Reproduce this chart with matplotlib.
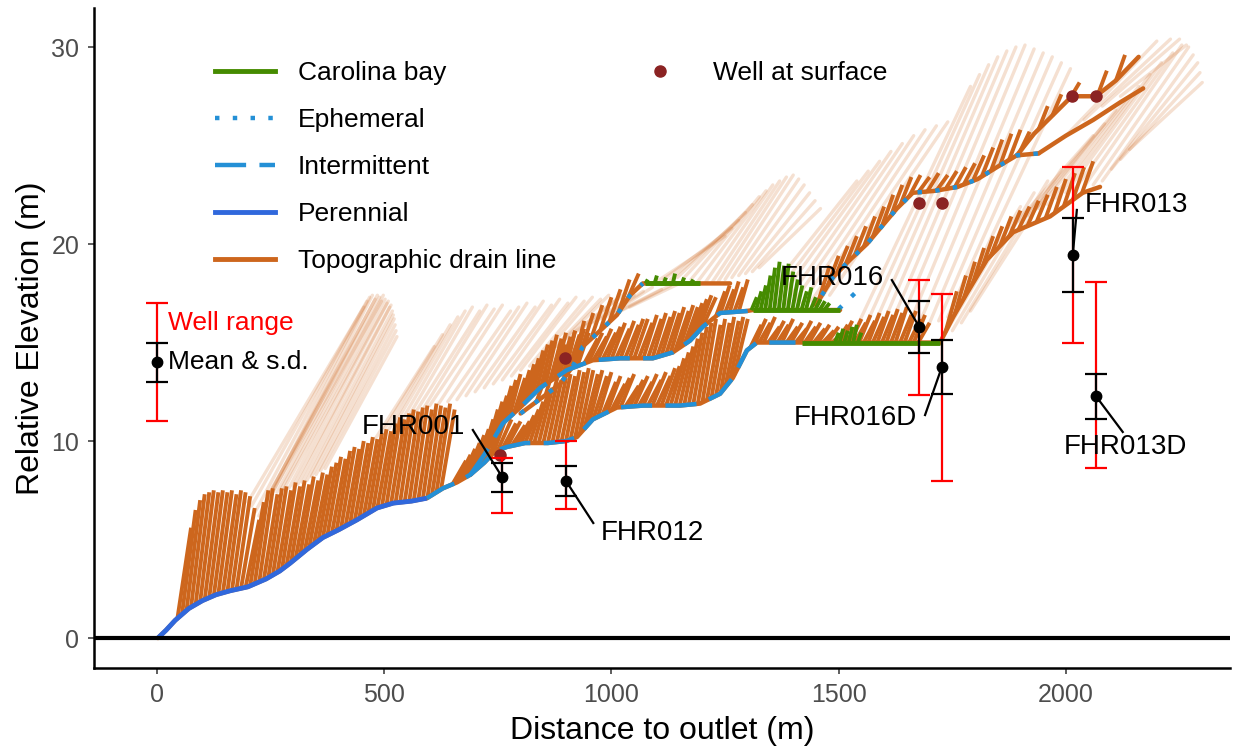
# Script to redraw the topographic drain line profile with well water levels

# IMPORTS #
import numpy as np
import matplotlib
matplotlib.use('Agg')
import matplotlib.pyplot as plt
from matplotlib.lines import Line2D

plt.rcParams['font.family'] = ['Liberation Sans', 'DejaVu Sans']

# COLOURS #
ORANGE = '#CD661D'
GREEN = '#458B00'
BLUE_LT = '#2490D6'
BLUE_PER = '#3068DC'
WELL_RED = '#8B2323'

# DATA #
# Channel paths (distance to outlet, relative elevation)
stem_a_x = [2, 20, 40, 70, 100, 130, 161, 200, 240, 270, 293, 330, 365, 400, 440, 484, 520, 560, 594,
            629, 660, 690, 720, 745, 770, 810, 860, 900, 924, 959, 1012, 1070, 1150, 1195, 1239, 1267,
            1298, 1320, 1405, 1419, 1723]
stem_a_y = [0.0, 0.4, 0.9, 1.5, 1.9, 2.2, 2.4, 2.6, 3.0, 3.4, 3.8, 4.5, 5.1, 5.5, 6.0, 6.6, 6.85, 6.95, 7.1,
            7.6, 7.9, 8.3, 8.9, 9.5, 9.7, 9.9, 9.9, 10.0, 10.2, 11.1, 11.7, 11.8, 11.8, 11.9, 12.4, 13.2,
            14.6, 15.0, 15.0, 15.0, 15.0]
stem_b_x = [690, 720, 761, 799, 843, 902, 959, 1019, 1091, 1135, 1173, 1201, 1239, 1298, 1311, 1503]
stem_b_y = [8.3, 9.3, 10.9, 11.7, 12.7, 13.6, 14.1, 14.2, 14.2, 14.5, 15.1, 15.8, 16.5, 16.6, 16.65, 16.65]
stem_e_x = [800, 847, 887, 915, 937, 975, 1012, 1041, 1069, 1074, 1195, 1261]
stem_e_y = [11.4, 12.2, 12.9, 13.8, 14.8, 15.6, 16.4, 17.4, 18.0, 18.0, 18.0, 18.0]
stem_c_x = [1450, 1463, 1487, 1525, 1562, 1595, 1628, 1663, 1712, 1762, 1806, 1848, 1892, 1940]
stem_c_y = [16.9, 17.4, 18.3, 19.2, 20.0, 20.9, 21.8, 22.6, 22.7, 22.9, 23.3, 23.9, 24.5, 24.6]
stem_c2_x = [1500, 1540]
stem_c2_y = [16.7, 17.6]
stem_d_x = [1723, 1752, 1782, 1826, 1884, 1965, 2037, 2075]
stem_d_y = [15.0, 16.3, 17.5, 19.2, 20.6, 21.4, 22.6, 22.9]
stem_f1_x = [1940, 2000, 2060, 2120, 2170]
stem_f1_y = [24.6, 25.5, 26.3, 27.2, 27.9]
stem_f2_x = [1892, 1930, 1965, 2013, 2066, 2110, 2160]
stem_f2_y = [24.5, 25.6, 26.4, 27.5, 27.5, 28.3, 29.5]

# Tributary drain lines: top end of each line (x, elevation)
fan1_top_x = [75, 85, 95, 105, 115, 125, 135, 145, 155, 165, 175, 185, 195, 205, 215, 225, 235, 245, 255,
              265, 275, 285, 295, 305, 315, 325, 335, 345, 355, 365, 375, 385, 395, 405, 415, 425, 435,
              445, 455, 465, 475, 485, 495, 505, 515, 525, 535, 545, 555, 565, 575, 585, 595, 605, 615,
              625, 635, 645, 655]
fan1_top_y = [5.6, 6.5, 7.0, 7.3, 7.4, 7.5, 7.4, 7.5, 7.4, 7.5, 7.3, 7.5, 7.4, 7.2, 6.6, 6.0, 6.9, 7.5, 7.6,
              7.3, 7.6, 7.7, 7.5, 7.9, 7.7, 8.0, 7.8, 8.2, 8.0, 8.4, 8.3, 8.7, 8.9, 9.2, 9.1, 9.5, 9.7,
              9.6, 10.0, 9.9, 10.2, 10.1, 10.4, 10.6, 10.5, 10.9, 11.2, 11.1, 11.4, 11.6, 11.5, 11.7, 11.8,
              11.6, 11.9, 11.8, 11.7, 11.9, 11.6]
fan2_top_x = [680, 690, 700, 710, 720, 730, 740, 750, 760, 770, 780, 790, 800, 810, 820, 830, 840, 850, 860,
              870, 880, 890, 900, 910, 920, 930, 940, 950, 960, 970, 980, 990, 1000]
fan2_top_y = [9.0, 9.3, 9.6, 9.9, 10.3, 10.6, 10.9, 11.2, 11.0, 11.3, 11.1, 10.9, 11.0, 10.8, 11.0, 11.3,
              11.6, 12.0, 12.4, 12.7, 12.9, 13.1, 13.2, 13.4, 13.3, 13.6, 13.5, 13.7, 13.6, 13.4, 13.6,
              13.3, 13.5]
fan3_top_x = [1010, 1020, 1030, 1040, 1050, 1060, 1070, 1080, 1090, 1100, 1110, 1120, 1130, 1140, 1150,
              1160, 1170, 1180, 1190, 1200, 1210, 1220, 1230, 1240, 1250, 1260, 1270, 1280, 1290, 1300]
fan3_top_y = [13.0, 13.3, 12.9, 13.2, 13.4, 12.8, 13.1, 13.3, 13.0, 13.4, 13.1, 13.5, 13.3, 13.7, 13.8,
              14.2, 14.5, 14.8, 15.2, 15.5, 15.8, 16.0, 16.2, 15.9, 16.2, 16.0, 16.3, 16.1, 16.3, 16.2]
fan4_top_x = [1330, 1340, 1350, 1360, 1370, 1380, 1390, 1400, 1410, 1420, 1430, 1440, 1450, 1460, 1470,
              1480, 1490, 1500, 1510, 1520, 1530, 1540, 1550, 1560, 1570, 1580, 1590, 1600, 1610, 1620,
              1630, 1640, 1650, 1660, 1670, 1680, 1690, 1700]
fan4_top_y = [15.9, 16.2, 16.0, 16.3, 15.8, 16.1, 15.9, 16.2, 15.8, 16.0, 15.7, 16.1, 15.8, 16.0, 15.7,
              15.9, 15.6, 15.8, 15.5, 15.9, 16.1, 15.8, 16.2, 16.0, 16.4, 16.1, 16.5, 16.3, 16.6, 16.4,
              16.7, 16.5, 16.8, 16.4, 16.6, 16.2, 16.4, 16.0]
fan5_top_x = [970, 980, 990, 1000, 1010, 1020, 1030, 1040, 1050, 1060, 1070, 1080, 1090, 1100, 1110, 1120,
              1130, 1140, 1150, 1160, 1170, 1180, 1190, 1200, 1210, 1220, 1230]
fan5_top_y = [15.2, 15.5, 15.3, 15.7, 15.5, 15.8, 16.0, 15.7, 16.1, 15.9, 16.2, 16.2, 16.0, 16.4, 16.2,
              16.5, 16.3, 16.6, 16.5, 16.8, 16.6, 16.9, 16.8, 17.0, 17.2, 17.4, 17.3]
fan6_top_x = [1250, 1260, 1270, 1280, 1290, 1300]
fan6_top_y = [17.6, 17.9, 17.7, 18.1, 17.8, 18.2]
fan7_top_x = [730, 740, 750, 760, 770, 780, 790, 800, 810, 820, 830, 840, 850, 860, 870, 880, 890, 900,
              910, 920, 930, 940, 950]
fan7_top_y = [10.5, 11.1, 11.6, 12.0, 12.3, 12.8, 13.1, 13.4, 13.2, 13.6, 13.9, 14.2, 14.6, 14.9, 15.1,
              15.4, 15.2, 15.5, 15.3, 15.6, 15.4, 15.7, 15.5]
fan8_top_x = [860, 880, 900, 920, 940, 960, 980, 1000, 1020, 1040, 1060]
fan8_top_y = [13.6, 14.2, 14.9, 15.6, 16.1, 16.5, 16.9, 17.3, 17.7, 18.2, 18.5]
fan_c_top_x = [1480, 1500, 1520, 1540, 1560, 1580, 1600, 1620, 1640, 1660, 1680, 1700, 1720, 1740, 1760,
               1780, 1800, 1820, 1840, 1860, 1880, 1900, 1920]
fan_c_top_y = [18.9, 19.4, 19.9, 20.4, 20.9, 21.4, 21.9, 22.5, 23.0, 23.4, 23.5, 23.4, 23.6, 23.5, 23.7,
               23.9, 24.1, 24.5, 24.9, 25.3, 25.6, 25.8, 25.7]
fan_d_top_x = [1760, 1780, 1800, 1820, 1840, 1860, 1880, 1900, 1920, 1940, 1960, 1980, 2000, 2020, 2040,
               2060]
fan_d_top_y = [17.6, 18.4, 19.1, 19.8, 20.4, 20.9, 21.4, 21.7, 21.9, 22.2, 22.5, 22.9, 23.3, 23.6, 23.9,
               24.2]
fan_f_top_x = [1960, 1990, 2030, 2090, 2130]
fan_f_top_y = [27.0, 27.6, 28.2, 28.8, 29.6]
# drain lines inside the Carolina bays
bay_mid_top_x = [1320, 1330, 1340, 1350, 1360, 1370, 1380, 1390, 1400, 1410, 1420, 1430, 1440, 1450,
                 1460, 1470, 1480]
bay_mid_top_y = [17.3, 17.6, 17.9, 18.4, 18.8, 19.1, 18.9, 19.0, 18.6, 18.2, 17.9, 17.6, 17.8, 17.3,
                 17.2, 17.1, 17.0]
bay_low_top_x = [1500, 1510, 1520, 1530, 1540, 1550]
bay_low_top_y = [15.5, 15.7, 15.6, 15.8, 15.9, 15.5]
bay_up_top_x = [1080, 1100, 1120, 1140, 1160, 1180]
bay_up_top_y = [18.2, 18.4, 18.3, 18.5, 18.3, 18.2]

# Long headwater drain lines (faint): start and end points
fade_a_x0 = [200, 208, 216, 224, 232, 240, 248, 256, 264, 272, 280, 290, 300, 310, 320, 330, 340, 350,
             360, 370]
fade_a_y0 = [6.9, 6.7, 6.4, 6.2, 6.4, 7.0, 7.4, 7.5, 7.4, 7.5, 7.6, 7.6, 7.7, 7.8, 7.9, 8.0, 8.2, 8.3,
             8.5, 8.6]
fade_a_x1 = [455, 462, 468, 474, 480, 485, 490, 494, 498, 502, 506, 509, 512, 515, 518, 520, 522, 524,
             526, 528]
fade_a_y1 = [16.8, 17.1, 17.3, 17.4, 17.2, 17.4, 17.3, 17.1, 17.4, 17.2, 17.0, 17.1, 16.8, 16.9, 16.6,
             16.4, 16.2, 15.9, 15.6, 15.3]
fade_b_x0 = [480, 495, 510, 525, 540, 555, 570, 585, 600, 620, 640, 660, 680, 700, 720, 740, 760, 780,
             800, 820, 840, 860, 880, 900, 920, 940, 960, 980, 1000, 1020, 1040]
fade_b_y0 = [10.1, 10.4, 10.6, 10.9, 11.1, 11.3, 11.5, 11.6, 11.8, 11.9, 12.0, 12.1, 12.3, 12.5, 12.7,
             12.9, 13.1, 13.3, 13.6, 13.8, 14.1, 14.4, 14.8, 15.2, 15.5, 15.8, 16.0, 16.2, 16.4, 16.6,
             16.8]
fade_b_x1 = [610, 628, 645, 662, 678, 694, 710, 726, 742, 760, 778, 796, 814, 832, 850, 868, 886, 904,
             922, 940, 958, 976, 994, 1012, 1030, 1050, 1070, 1090, 1110, 1130, 1150]
fade_b_y1 = [14.8, 15.4, 15.9, 16.3, 16.6, 16.8, 16.6, 16.9, 16.7, 16.9, 16.6, 16.8, 17.0, 16.8, 17.1,
             16.9, 17.2, 17.0, 17.3, 17.1, 17.3, 17.2, 17.4, 17.2, 17.5, 17.4, 17.6, 17.8, 17.7, 17.9,
             18.0]
fade_c_x0 = [1100, 1115, 1130, 1145, 1160, 1175, 1190, 1205, 1220, 1235, 1250, 1265, 1280, 1295, 1310,
             1325]
fade_c_y0 = [18.1, 18.2, 18.2, 18.3, 18.3, 18.2, 18.1, 18.0, 18.0, 18.1, 18.2, 18.3, 18.4, 18.5, 18.6,
             18.8]
fade_c_x1 = [1250, 1265, 1280, 1295, 1310, 1325, 1340, 1355, 1370, 1385, 1400, 1412, 1424, 1436, 1448,
             1460]
fade_c_y1 = [20.4, 20.8, 21.2, 21.6, 22.0, 22.4, 22.7, 23.0, 23.2, 23.4, 23.5, 23.3, 23.0, 22.6, 22.2,
             21.8]
fade_d_x0 = [1320, 1340, 1360, 1380, 1400, 1420, 1440, 1460, 1480,
             1540, 1560, 1580, 1600, 1620, 1640, 1660, 1680, 1700, 1720, 1740, 1760,
             1730, 1750, 1770, 1790]
fade_d_y0 = [16.8, 16.8, 16.9, 16.9, 17.0, 17.0, 17.1, 17.2, 17.4,
             15.8, 15.9, 16.0, 16.1, 16.2, 16.3, 16.2, 16.1, 16.0, 16.1, 16.3, 16.6,
             15.3, 15.6, 16.0, 16.6]
fade_d_x1 = [1540, 1565, 1590, 1615, 1640, 1665, 1690, 1715, 1740,
             1790, 1810, 1830, 1850, 1870, 1890, 1910, 1930, 1950, 1970, 1990, 2010,
             1900, 1930, 1960, 1990]
fade_d_y1 = [23.2, 23.7, 24.2, 24.7, 25.1, 25.5, 25.8, 26.0, 26.2,
             28.0, 28.6, 29.1, 29.5, 29.8, 30.0, 30.1, 29.9, 29.7, 29.5, 29.2, 28.9,
             21.9, 22.6, 23.2, 23.8]
fade_e_x0 = [1880, 1900, 1920, 1940, 1960, 1980, 2000, 2020, 2040, 2060, 2080, 2100, 2120, 2140,
             2000, 2040, 2080, 2120]
fade_e_y0 = [20.8, 21.1, 21.4, 21.8, 22.0, 22.3, 22.6, 22.8, 22.9, 23.0, 23.2, 23.8, 24.3, 24.8,
             25.5, 26.3, 27.0, 27.5]
fade_e_x1 = [2060, 2085, 2110, 2135, 2160, 2185, 2210, 2235, 2255, 2270, 2280, 2290, 2295, 2300,
             2200, 2230, 2250, 2265]
fade_e_y1 = [25.5, 26.1, 26.8, 27.4, 28.0, 28.6, 29.2, 29.7, 30.1, 30.0, 29.6, 29.2, 28.7, 28.2,
             30.3, 30.4, 30.4, 30.1]

# Wells at the land surface
surf_x = [755, 898, 1677, 1727, 2013, 2066]
surf_y = [9.3, 14.2, 22.1, 22.1, 27.5, 27.5]

# Wells: mean, standard deviation and range of water level
well_names = ['FHR001', 'FHR012', 'FHR016', 'FHR016D', 'FHR013', 'FHR013D']
well_x = [760, 900, 1677, 1727, 2015, 2066]
well_mean = [8.15, 7.97, 15.8, 13.76, 19.44, 12.28]
well_sd = [0.76, 0.74, 1.32, 1.35, 1.87, 1.14]
well_min = [6.34, 6.55, 12.33, 7.97, 15.0, 8.63]
well_max = [9.14, 10.0, 18.17, 17.46, 23.9, 18.07]
# label centres and leader line starts
label_x = [564, 1089, 1487, 1536, 2156, 2132]
label_y = [10.7, 5.33, 18.3, 11.17, 21.98, 9.7]
lead_x = [695, 960, 1617, 1690, 2024, 2125]
lead_y = [10.56, 5.84, 18.17, 11.32, 21.73, 10.46]

# key well for the error bar legend
key_x = [0]
key_mean = [14]
key_sd = [1]
key_min = [11]
key_max = [17]

# FIGURE #
fig = plt.figure(figsize=(12.35, 7.51), dpi=100)
ax = fig.add_axes([94 / 1235, 83 / 751, 1136 / 1235, 660 / 751])


# FUNCTIONS #
def draw_fan(stem_x, stem_y, top_x, top_y, lean, color=ORANGE, lw=2.8, z=3):
# Draw tributary drain lines from the stem up to their top points
    top_x = np.array(top_x, dtype=float)
    base_x = top_x - lean
    base_y = np.interp(base_x, stem_x, stem_y)
    for i in range(len(top_x)):
        ax.plot([base_x[i], top_x[i]], [base_y[i], top_y[i]], color=color, lw=lw,
                solid_capstyle='butt', zorder=z)


def draw_fade(x0, y0, x1, y1):
# Draw the faint long headwater drain lines
    for i in range(len(x0)):
        ax.plot([x0[i], x1[i]], [y0[i], y1[i]], color=ORANGE, lw=2.4, alpha=0.2,
                solid_capstyle='round', zorder=2)


def part(stem_x, stem_y, lo, hi):
# Pick the points of a stem between two distances
    sx = np.array(stem_x)
    sy = np.array(stem_y)
    m = (sx >= lo) & (sx <= hi)
    return sx[m], sy[m]


def draw_wells(x, mean, sd, lo, hi):
# Range (red), mean and s.d. (black) for each well
    x = np.array(x, dtype=float)
    mean = np.array(mean)
    ax.errorbar(x, mean, yerr=[mean - np.array(lo), np.array(hi) - mean], fmt='none',
                ecolor='red', elinewidth=1.6, capsize=8, capthick=1.6, zorder=6)
    ax.errorbar(x, mean, yerr=sd, fmt='none', ecolor='black', elinewidth=1.6,
                capsize=8, capthick=1.6, zorder=7)
    ax.plot(x, mean, 'o', color='black', markersize=7.5, zorder=8)


# faint lines first
draw_fade(fade_a_x0, fade_a_y0, fade_a_x1, fade_a_y1)
draw_fade(fade_b_x0, fade_b_y0, fade_b_x1, fade_b_y1)
draw_fade(fade_c_x0, fade_c_y0, fade_c_x1, fade_c_y1)
draw_fade(fade_d_x0, fade_d_y0, fade_d_x1, fade_d_y1)
draw_fade(fade_e_x0, fade_e_y0, fade_e_x1, fade_e_y1)

# tributaries
draw_fan(stem_a_x, stem_a_y, fan1_top_x, fan1_top_y, 30)
draw_fan(stem_a_x, stem_a_y, fan2_top_x, fan2_top_y, 30)
draw_fan(stem_a_x, stem_a_y, fan3_top_x, fan3_top_y, 30)
draw_fan(stem_a_x, stem_a_y, fan4_top_x, fan4_top_y, 25)
draw_fan(stem_b_x, stem_b_y, fan5_top_x, fan5_top_y, 30)
draw_fan(stem_b_x, stem_b_y, fan6_top_x, fan6_top_y, 20)
draw_fan(stem_b_x, stem_b_y, fan7_top_x, fan7_top_y, 25)
draw_fan(stem_e_x, stem_e_y, fan8_top_x, fan8_top_y, 25)
draw_fan(stem_c_x, stem_c_y, fan_c_top_x, fan_c_top_y, 25)
draw_fan(stem_d_x, stem_d_y, fan_d_top_x, fan_d_top_y, 25)
draw_fan(stem_f2_x, stem_f2_y, fan_f_top_x, fan_f_top_y, 20)
draw_fan(stem_b_x, stem_b_y, bay_mid_top_x, bay_mid_top_y, 12, color=GREEN, z=4)
draw_fan(stem_a_x, stem_a_y, bay_low_top_x, bay_low_top_y, 8, color=GREEN, z=4)
draw_fan(stem_e_x, stem_e_y, bay_up_top_x, bay_up_top_y, 5, color=GREEN, z=4)

# main drain lines
for sx, sy in [(stem_a_x, stem_a_y), (stem_b_x, stem_b_y), (stem_e_x, stem_e_y), (stem_c_x, stem_c_y),
               (stem_d_x, stem_d_y), (stem_f1_x, stem_f1_y), (stem_f2_x, stem_f2_y)]:
    ax.plot(sx, sy, color=ORANGE, lw=3.2, solid_capstyle='round', zorder=3)

# stream classes on top of the drain lines
px, py = part(stem_a_x, stem_a_y, 0, 594)
ax.plot(px, py, color=BLUE_PER, lw=3.5, solid_capstyle='butt', zorder=5)
for sx, sy, lo, hi in [(stem_a_x, stem_a_y, 594, 1405), (stem_b_x, stem_b_y, 690, 1311)]:
    px, py = part(sx, sy, lo, hi)
    ax.plot(px, py, color=BLUE_LT, lw=3.2, dashes=(7, 3), zorder=5)
for sx, sy, lo, hi in [(stem_e_x, stem_e_y, 800, 1069), (stem_c_x, stem_c_y, 1463, 1940),
                       (stem_c2_x, stem_c2_y, 1500, 1540)]:
    px, py = part(sx, sy, lo, hi)
    ax.plot(px, py, color=BLUE_LT, lw=3.2, dashes=(1, 3), zorder=5)
for sx, sy, lo, hi in [(stem_a_x, stem_a_y, 1419, 1723), (stem_b_x, stem_b_y, 1311, 1503),
                       (stem_e_x, stem_e_y, 1074, 1195)]:
    px, py = part(sx, sy, lo, hi)
    ax.plot(px, py, color=GREEN, lw=3.5, solid_capstyle='butt', zorder=5)

ax.axhline(0, color='black', lw=3, zorder=5)

# wells at surface
ax.plot(surf_x, surf_y, 'o', color=WELL_RED, markersize=8, zorder=6)

# well levels
draw_wells(well_x, well_mean, well_sd, well_min, well_max)
draw_wells(key_x, key_mean, key_sd, key_min, key_max)
ax.text(24, 16.0, 'Well range', color='red', fontsize=19, ha='left', va='center', zorder=9)
ax.text(24, 14.0, 'Mean & s.d.', color='black', fontsize=19, ha='left', va='center', zorder=9)

for i in range(len(well_names)):
    ax.plot([lead_x[i], well_x[i]], [lead_y[i], well_mean[i]], color='black', lw=1.6, zorder=8)
    ax.text(label_x[i], label_y[i], well_names[i], fontsize=20, ha='center', va='center', zorder=9)

# AXES #
ax.set_xlim(-138.6, 2361)
ax.set_ylim(-1.52, 31.98)
ax.set_xticks([0, 500, 1000, 1500, 2000])
ax.set_yticks([0, 10, 20, 30])
ax.spines['top'].set_visible(False)
ax.spines['right'].set_visible(False)
for s in ['left', 'bottom']:
    ax.spines[s].set_linewidth(1.8)
    ax.spines[s].set_color('black')
ax.tick_params(axis='both', length=4, width=1.1, color='#333333', labelsize=18,
               labelcolor='#4D4D4D', pad=6.5)
ax.set_xlabel('Distance to outlet (m)', fontsize=23, labelpad=7)
ax.set_ylabel('Relative Elevation (m)', fontsize=23, labelpad=4)

# LEGEND #
handles = [Line2D([], [], color=GREEN, lw=3.5),
           Line2D([], [], color=BLUE_LT, lw=3.2, dashes=(1, 3)),
           Line2D([], [], color=BLUE_LT, lw=3.2, dashes=(7, 3)),
           Line2D([], [], color=BLUE_PER, lw=3.5),
           Line2D([], [], color=ORANGE, lw=3.5)]
names = ['Carolina bay', 'Ephemeral', 'Intermittent', 'Perennial', 'Topographic drain line']
leg1 = ax.legend(handles, names, loc='upper left', bbox_to_anchor=(215 / 1235, 1 - 61 / 751),
                 bbox_transform=fig.transFigure, frameon=False, fontsize=19, borderpad=0,
                 borderaxespad=0, handlelength=2.27, handletextpad=0.87, labelspacing=0.87)
ax.add_artist(leg1)
well_handle = [Line2D([], [], color=WELL_RED, marker='o', ls='none', markersize=8)]
ax.legend(well_handle, ['Well at surface'], loc='upper left', bbox_to_anchor=(630 / 1235, 1 - 61 / 751),
          bbox_transform=fig.transFigure, frameon=False, fontsize=19, borderpad=0,
          borderaxespad=0, handlelength=2.27, handletextpad=0.87)

fig.savefig('out.png', dpi=100)
